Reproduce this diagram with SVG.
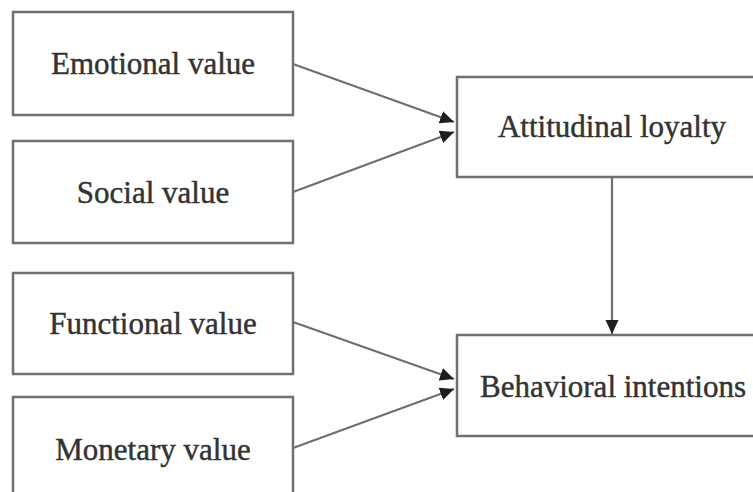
<svg xmlns="http://www.w3.org/2000/svg" width="753" height="492" viewBox="0 0 753 492">
  <style>
    .box { fill: #ffffff; stroke: #707070; stroke-width: 2.5; }
    .label { font-family: "Liberation Serif", "Times New Roman", serif; font-size: 31px; fill: #333333; stroke: #333333; stroke-width: 0.45; text-anchor: middle; }
    .edge { fill: none; stroke: #6e6e6e; stroke-width: 2.2; marker-end: url(#head); }
  </style>
  <defs>
    <marker id="head" markerUnits="userSpaceOnUse" markerWidth="16" markerHeight="14" refX="14" refY="6.5" orient="auto">
      <path d="M0,0 L14,6.5 L0,13 Z" fill="#1e1e1e"/>
    </marker>
  </defs>
  <rect width="753" height="492" fill="#ffffff"/>

  <g id="connectors">
    <line class="edge" x1="293" y1="64" x2="454" y2="122"/>
    <line class="edge" x1="293" y1="192" x2="454" y2="132"/>
    <line class="edge" x1="293" y1="322" x2="454" y2="379"/>
    <line class="edge" x1="293" y1="448" x2="454" y2="389"/>
    <line class="edge" x1="612" y1="177" x2="612" y2="334"/>
  </g>

  <g id="emotional-value">
    <rect class="box" x="13" y="12" width="280" height="103"/>
    <text class="label" x="153" y="74">Emotional value</text>
  </g>
  <g id="social-value">
    <rect class="box" x="13" y="141" width="280" height="102"/>
    <text class="label" x="153" y="203">Social value</text>
  </g>
  <g id="functional-value">
    <rect class="box" x="13" y="273" width="280" height="101"/>
    <text class="label" x="153" y="334">Functional value</text>
  </g>
  <g id="monetary-value">
    <rect class="box" x="13" y="397" width="280" height="105"/>
    <text class="label" x="153" y="460">Monetary value</text>
  </g>
  <g id="attitudinal-loyalty">
    <rect class="box" x="457" y="77" width="312" height="100"/>
    <text class="label" x="612" y="137">Attitudinal loyalty</text>
  </g>
  <g id="behavioral-intentions">
    <rect class="box" x="457" y="335" width="312" height="101"/>
    <text class="label" x="613" y="397">Behavioral intentions</text>
  </g>
</svg>
